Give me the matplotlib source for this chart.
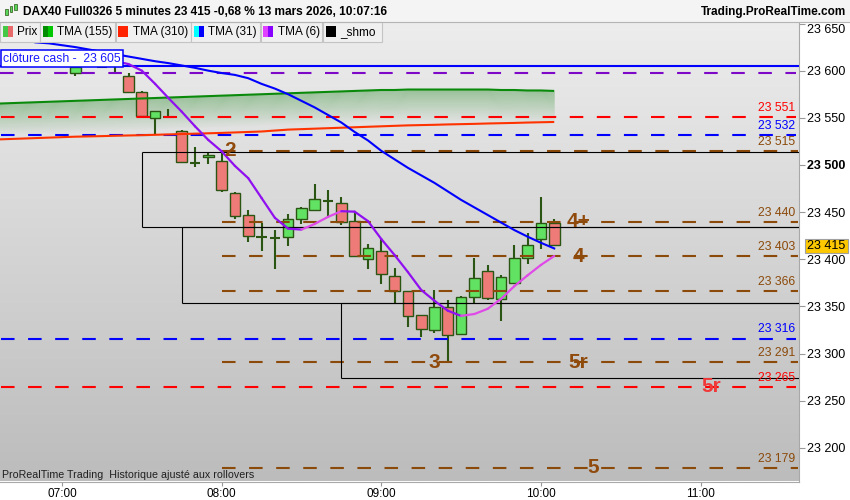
import numpy as np
import matplotlib
matplotlib.use("Agg")
import matplotlib.pyplot as plt
from matplotlib.patches import Rectangle
from matplotlib.collections import LineCollection
from matplotlib.colors import LinearSegmentedColormap

plt.rcParams['font.family'] = ['Liberation Sans', 'DejaVu Sans']

# ---------------- data (minutes after 07:00) ----------------
candle_times = list(range(5, 190, 5))
opens  = [23598, 23606, 23603.5, 23607, 23594, 23577, 23549.5, 23551, 23536, 23502.5,
          23508, 23504, 23470, 23446.5, 23424, 23423, 23424, 23442.5, 23452.5, 23462,
          23459.5, 23440.5, 23400, 23409, 23382.5, 23366, 23340.5, 23325, 23349, 23321,
          23360.5, 23387.5, 23357.5, 23374.5, 23401, 23421.5, 23438]
highs  = [23606, 23614, 23610, 23611, 23598, 23578, 23557.5, 23559, 23537, 23519,
          23513, 23512.5, 23471, 23452, 23439, 23431, 23448, 23455, 23480, 23473.5,
          23466, 23450.5, 23416.5, 23422.5, 23390.5, 23366.5, 23341, 23367.5, 23357, 23361.5,
          23401, 23394, 23383.5, 23415, 23428, 23466, 23442.5]
lows   = [23594.5, 23605, 23603, 23598, 23576.5, 23551, 23533, 23551, 23503, 23498,
          23501, 23471, 23442.5, 23418, 23409, 23390, 23414, 23437, 23452, 23443.5,
          23436.5, 23403, 23389.5, 23373.5, 23354, 23328, 23318, 23321.5, 23290, 23320,
          23353.5, 23357, 23335, 23374, 23395, 23410.5, 23415]
closes = [23604, 23610, 23603.5, 23607, 23577, 23552, 23557, 23551, 23503.5, 23502.5,
          23510.5, 23473.5, 23446, 23424.5, 23424, 23423, 23442.5, 23454, 23463.5, 23462,
          23439.5, 23404, 23412, 23384, 23366.5, 23340, 23326.5, 23349, 23320, 23360,
          23380, 23359, 23381, 23401, 23415, 23438, 23415]

tma31_times = list(range(-10, 190, 5))
tma31 = [23630, 23629, 23627, 23625, 23622.5, 23620, 23617.5, 23615, 23612.5, 23610,
         23608, 23605.5, 23603, 23600, 23597.5, 23595.5, 23592, 23586, 23581, 23575,
         23568, 23561, 23553, 23545, 23535, 23526, 23515, 23506, 23497, 23489,
         23481, 23472, 23463, 23455, 23447, 23439, 23431, 23424, 23417.5, 23411.5]

tma6_times = list(range(15, 190, 5))
tma6 = [23612, 23610, 23607, 23600, 23586, 23571, 23556.5, 23541, 23526.5, 23514.5,
        23499, 23486, 23465, 23444, 23432.5, 23431.5, 23437.5, 23445, 23451, 23450.5,
        23440.5, 23421.5, 23404.5, 23386.5, 23367.5, 23356, 23345.5, 23340, 23342, 23347.5,
        23358, 23371.5, 23383, 23394, 23403.5]

tma_long_times = list(range(-25, 190, 5))
tma155 = [23565, 23565.5, 23566, 23566.5, 23567, 23567.5, 23568, 23568.5, 23569, 23569.5,
          23570, 23570.5, 23571, 23571.5, 23572, 23572.5, 23573, 23573.5, 23574, 23574.5,
          23575, 23575.5, 23576, 23576.5, 23577, 23577.5, 23578, 23578.5, 23579, 23579.5,
          23579.5, 23580, 23580, 23580, 23580, 23580, 23580, 23580, 23579.5, 23579.5,
          23579, 23579, 23578.5]
tma310 = [23527, 23527.5, 23528, 23528.5, 23529, 23529.5, 23530, 23530.3, 23530.6, 23531,
          23531.3, 23531.6, 23532, 23532.4, 23532.8, 23533.2, 23533.6, 23534, 23534.5, 23535,
          23535.5, 23536.5, 23537.5, 23538, 23538.5, 23539, 23539.5, 23540, 23540.5, 23541,
          23541.5, 23542, 23542.3, 23542.6, 23543, 23543.3, 23543.6, 23544, 23544.3, 23544.6,
          23545, 23545.3, 23545.6]

cash_close = 23605
purple_level = 23597
full_levels = [23551, 23532, 23316, 23265]
full_level_colors = ['#ff0000', '#0000ff', '#0000ff', '#ff0000']
brown_levels = [23515, 23440, 23403, 23366, 23291, 23179]
box_lefts = [30, 45, 105]
box_tops = [23514, 23434, 23353.5]
box_bottoms = [23434, 23353.5, 23274]

big_labels = [("2", 63, 23515, '#8f4a0c'), ("4+", 194, 23440, '#8f4a0c'),
              ("4", 194, 23403, '#8f4a0c'), ("3", 140, 23291, '#8f4a0c'),
              ("5r", 194, 23291, '#8f4a0c'), ("5r", 244, 23265, '#f03838'),
              ("5", 199.5, 23179, '#8f4a0c')]

yticks = list(range(23200, 23651, 50))
xticks = [0, 60, 120, 180, 240]
xtick_labels = ["07:00", "08:00", "09:00", "10:00", "11:00"]
last_price = 23415

# ---------------- figure ----------------
W, H = 850, 500
fig = plt.figure(figsize=(W / 100, H / 100), dpi=100, facecolor='white')

def fx(x):
    return x / W

def fy(y):
    return 1 - y / H

ax_left, ax_right, ax_top, ax_bottom = 0, 799, 22, 481.5
ax = fig.add_axes([fx(ax_left), fy(ax_bottom), fx(ax_right - ax_left), (ax_bottom - ax_top) / H])

XMIN, XMAX = -23.3, 277.0
YMIN, YMAX = 23164.4, 23651.6
ax.set_xlim(XMIN, XMAX)
ax.set_ylim(YMIN, YMAX)

# background gradient
cmap_bg = LinearSegmentedColormap.from_list('bg', ['#ededed', '#bcbcbc'])
ax.imshow(np.linspace(0, 1, 256).reshape(-1, 1), cmap=cmap_bg, aspect='auto',
          extent=[0, 1, 0, 1], transform=ax.transAxes, zorder=0)

def fmt(v):
    v = int(round(v))
    return f"{v // 1000} {v % 1000:03d}"

# green band under TMA155
t_long = np.array(tma_long_times, dtype=float)
g = np.array(tma155)
nstrip = 32
band_h = 33.0
for k in range(nstrip):
    a = 0.42 * (1 - k / nstrip)
    ax.fill_between(t_long, g - k * band_h / nstrip, g - (k + 1) * band_h / nstrip,
                    color='#2f8f2f', alpha=a, lw=0, antialiased=False, zorder=1)

# candles
body_w = 4.0
wick_c = '#2b5512'
for t, o, h, l, c in zip(candle_times, opens, highs, lows, closes):
    ax.vlines(t, l, h, color=wick_c, lw=1.5, zorder=3)
    if o == c:
        ax.hlines(o, t - body_w / 2, t + body_w / 2, color=wick_c, lw=1.5, zorder=4)
    else:
        fc = '#62e262' if c > o else '#ef7b79'
        ax.add_patch(Rectangle((t - body_w / 2, min(o, c)), body_w, abs(c - o),
                               fc=fc, ec=wick_c, lw=1.0, zorder=4))

# horizontal levels
dash = (0, (6.5, 6.5))
ax.hlines(cash_close, XMIN, XMAX, color='#0000ff', lw=1.5, zorder=5)
ax.hlines(purple_level, XMIN, 276, color='#7d08c8', lw=1.5, linestyles=[dash], zorder=5)
for v, col in zip(full_levels, full_level_colors):
    ax.hlines(v, XMIN + 0.5, 276, color=col, lw=1.5, linestyles=[dash], zorder=5)
for v in brown_levels:
    ax.hlines(v, 60, 276.5, color='#8b4a0a', lw=1.5, linestyles=[dash], zorder=5)

# black boxes
for xl, yt, yb in zip(box_lefts, box_tops, box_bottoms):
    ax.vlines(xl, yb, yt, color='black', lw=0.8, zorder=5)
    ax.hlines(yt, xl, XMAX, color='black', lw=0.8, zorder=5)
    ax.hlines(yb, xl, XMAX, color='black', lw=0.8, zorder=5)

# moving averages
ax.plot(t_long, tma310, color='#ff3300', lw=1.5, zorder=6, solid_capstyle='butt')
ax.plot(t_long, tma155, color='#0a8a0a', lw=1.5, zorder=6, solid_capstyle='butt')
ax.plot(tma31_times, tma31, color='#0000ff', lw=1.5, zorder=6)

pts = np.column_stack([tma6_times, tma6])
segs = np.stack([pts[:-1], pts[1:]], axis=1)
cols = ['#e04ae8' if b > a else '#9010f0' for a, b in zip(tma6[:-1], tma6[1:])]
ax.add_collection(LineCollection(segs, colors=cols, linewidths=1.6, zorder=6, capstyle='round'))

# level value labels (right)
x_lab = (795 - 62) / 2.661
lab_levels = brown_levels + full_levels
lab_colors = ['#8b4a0a'] * len(brown_levels) + full_level_colors
for v, col in zip(lab_levels, lab_colors):
    ax.annotate(fmt(v), (x_lab, v), xytext=(0, 2.2), textcoords='offset points',
                ha='right', va='bottom', fontsize=8.8, color=col, zorder=7)

# big labels
for txt, t, v, col in big_labels:
    ax.text(t, v, txt, fontsize=15, fontweight='bold', color=col,
            ha='center', va='center', zorder=8)

# axes styling
ax.yaxis.tick_right()
ax.set_yticks(yticks)
ax.set_yticklabels([fmt(v) for v in yticks])
for lbl, v in zip(ax.get_yticklabels(), yticks):
    if v == 23500:
        lbl.set_fontweight('bold')
    if v == 23650:
        lbl.set_verticalalignment('top')
ax.tick_params(axis='y', which='major', length=4, width=0.8, color='#999999',
               labelsize=9, pad=1.5, labelcolor='black')
ax.set_xticks(xticks)
ax.set_xticklabels(xtick_labels)
ax.tick_params(axis='x', which='major', length=3, width=0.8, color='#999999',
               labelsize=8.5, pad=2, labelcolor='black')
for s in ['top', 'left']:
    ax.spines[s].set_visible(False)
for s in ['right', 'bottom']:
    ax.spines[s].set_color('#a8a8a8')
    ax.spines[s].set_linewidth(0.8)

ax.text(0.003, 1.2 / 459.5, "ProRealTime Trading  Historique ajusté aux rollovers",
        transform=ax.transAxes, fontsize=7.7, color='#202020', ha='left', va='bottom', zorder=9)

# ---------------- overlays in figure pixels ----------------
def rect(x0, y0, x1, y1, **kw):
    fig.patches.append(Rectangle((fx(x0), fy(y1)), fx(x1 - x0), (y1 - y0) / H,
                                 transform=fig.transFigure, **kw))

# header
rect(0, 0, 850, 21.5, fc='#f4f4f4', ec='none')
fig.add_artist(plt.Line2D([0, 1], [fy(21.5), fy(21.5)], transform=fig.transFigure,
                          color='#b4b4b4', lw=0.8))
# candle icon
rect(5, 9, 7.5, 15, fc='#5ad65a', ec='#2b5512', lw=0.5)
rect(9.5, 6, 12, 12, fc='#5ad65a', ec='#2b5512', lw=0.5)
rect(14, 4, 16.5, 10, fc='#5ad65a', ec='#2b5512', lw=0.5)
fig.text(fx(23), fy(12), "DAX40 Full0326 5 minutes 23 415 -0,68 % 13 mars 2026, 10:07:16",
         fontsize=8.6, fontweight='bold', ha='left', va='center', color='black')
fig.text(fx(846), fy(11.5), "Trading.ProRealTime.com", fontsize=8.5, fontweight='bold',
         ha='right', va='center', color='black')

# legend row
legend_items = [
    ("Prix", 0, 39.5, ['#45c845', '#e86a6a']),
    ("TMA (155)", 40, 115.3, ['#008c00', '#00c800']),
    ("TMA (310)", 115.7, 190.7, ['#ff2200', '#ff2200']),
    ("TMA (31)", 191, 260.3, ['#00ffff', '#0000ff']),
    ("TMA (6)", 260.7, 322.3, ['#e040ff', '#8800ff']),
    ("_shmo", 323, 381.7, ['#000000', '#000000']),
]
for name, x0, x1, sw in legend_items:
    rect(x0, 21.7, x1, 41.7, fc='#f0f0f0', ec='#c4c4c4', lw=0.8)
    rect(x0 + 2.7, 26, x0 + 7.7, 36.7, fc=sw[0], ec='none')
    rect(x0 + 7.7, 26, x0 + 12.7, 36.7, fc=sw[1], ec='none')
    fig.text(fx(x0 + 17), fy(31.7), name, fontsize=8.5, ha='left', va='center', color='black')

# cash close label
rect(0.5, 50, 123, 66.7, fc='white', ec='#0000ff', lw=1.1)
fig.text(fx(3), fy(58.5), "clôture cash -  23 605", fontsize=8.8, ha='left', va='center',
         color='#1a1aff')

# last price tag
rect(804.5, 239, 847.5, 253, fc='#fdc800', ec='#a0a0a0', lw=0.8)
fig.text(fx(826), fy(246), fmt(last_price), fontsize=9, ha='center', va='center', color='black')

fig.savefig("out.png", dpi=100, facecolor=fig.get_facecolor())
